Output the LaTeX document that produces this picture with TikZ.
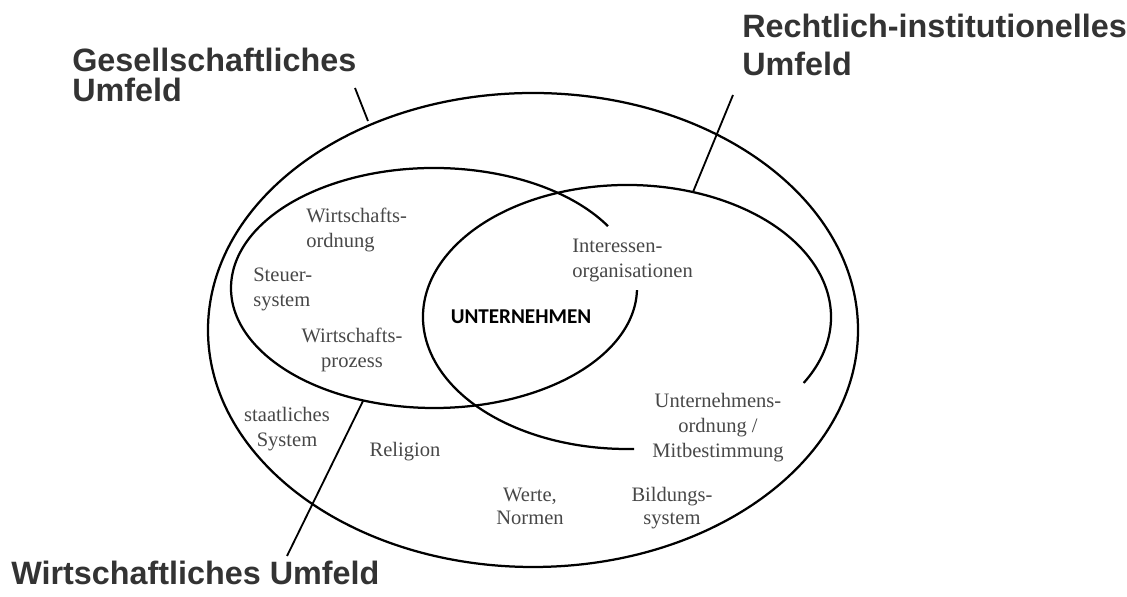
\documentclass[tikz,border=0pt]{standalone}
\usepackage{fontspec}
\setmainfont{Liberation Serif}
\newfontfamily\headfont{Liberation Sans}
\newfontfamily\firmfont{Carlito}
\usetikzlibrary{positioning}

\begin{document}
\begin{tikzpicture}
  [x=0.025cm, y=0.025cm,
   field/.style={draw=black, line width=1.6pt},
   leader/.style={draw=black, line width=1.3pt},
   heading/.style={anchor=base west, align=left, inner sep=0pt, text=black!80,
     font=\headfont\bfseries\fontsize{23}{21.4}\selectfont},
   factor/.style={anchor=base, align=center, inner sep=0pt, text=black!72,
     font=\fontsize{14.6}{17.8}\selectfont}]
  \useasboundingbox (0,0) rectangle (1127,597);

  % environments
  \draw [field] (533,267) ellipse [x radius=325, y radius=237];
  \draw [field] (434,309) ++(31:203 and 120) arc [start angle=31, end angle=359, x radius=203, y radius=120];
  \draw [field] (627,280) ++(-30:204 and 132) arc [start angle=-30, end angle=272, x radius=204, y radius=132];

  % headings (base = last line)
  \node (gesLabel) at (72,495) [heading] {Gesellschaftliches\\Umfeld};
  \node (rechtLabel) at (742,521) [heading, font=\headfont\bfseries\fontsize{23}{27.7}\selectfont] {Rechtlich-institutionelles\\Umfeld};
  \node (wirtLabel) at (11,12) [heading] {Wirtschaftliches Umfeld};

  \coordinate (gesTop) at (355,509);
  \coordinate (gesFoot) at (368,476);
  \coordinate (rechtTop) at (733,502);
  \coordinate (rechtFoot) at (693,405);
  \coordinate (wirtTop) at (363,196);
  \coordinate (wirtFoot) at (287,41);
  \draw [leader] (gesTop) -- (gesFoot);
  \draw [leader] (rechtTop) -- (rechtFoot);
  \draw [leader] (wirtTop) -- (wirtFoot);

  % factors
  \node (ordLabel) at (306,349) [factor, anchor=base west, align=left] {Wirtschafts-\\ordnung};
  \node (steuerLabel) at (253,290) [factor, anchor=base west, align=left] {Steuer-\\system};
  \node (prozessLabel) at (352,229) [factor] {Wirtschafts-\\prozess};
  \node (interLabel) at (572,319) [factor, anchor=base west, align=left] {Interessen-\\organisationen};
  \node (firmLabel) at (521,273) [factor, text=black, font=\firmfont\bfseries\fontsize{15}{18}\selectfont] {UNTERNEHMEN};
  \node (staatLabel) at (287,150) [factor] {staatliches\\System};
  \node (religionLabel) at (405,140) [factor] {Religion};
  \node (mitbestLabel) at (718,139) [factor] {Unternehmens-\\ordnung /\\Mitbestimmung};
  \node (werteLabel) at (530,72) [factor, font=\fontsize{14.6}{16.6}\selectfont] {Werte,\\Normen};
  \node (bildungLabel) at (672,72) [factor, font=\fontsize{14.6}{16.6}\selectfont] {Bildungs-\\system};
\end{tikzpicture}
\end{document}
